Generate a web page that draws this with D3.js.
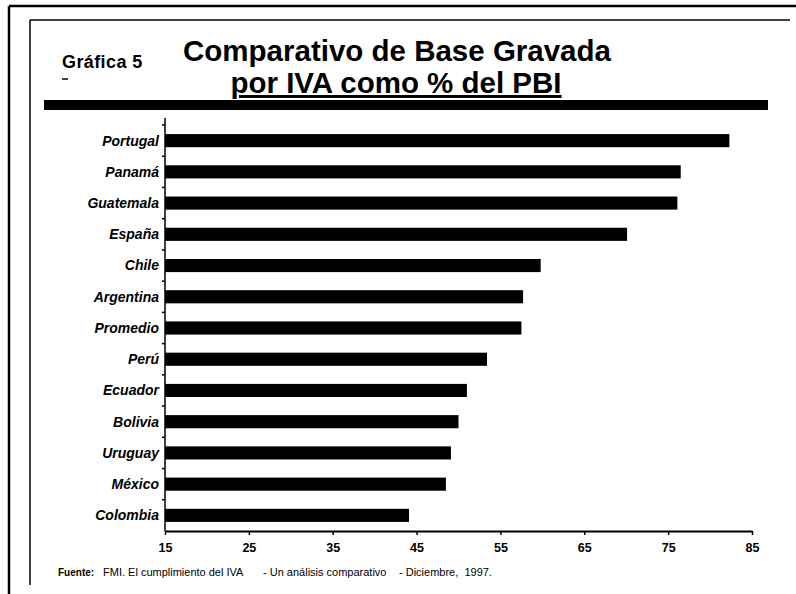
<!DOCTYPE html>
<html>
<head>
<meta charset="utf-8">
<script src="https://cdn.jsdelivr.net/npm/d3@7"></script>
<style>
  body { margin: 0; background: #fff; }
  svg { display: block; font-family: "Liberation Sans", Arial, sans-serif; }
</style>
</head>
<body>
<svg id="chart"></svg>
<script>
const width = 796;
const height = 594;

// Data
const countries = ["Portugal", "Panamá", "Guatemala", "España", "Chile", "Argentina",
  "Promedio", "Perú", "Ecuador", "Bolivia", "Uruguay", "México", "Colombia"];
const baseValues = [82.3, 76.5, 76.1, 70.1, 59.8, 57.7, 57.5, 53.4, 51.0, 50.0, 49.1, 48.5, 44.1];
const xTicks = [15, 25, 35, 45, 55, 65, 75, 85];
const sourceParts = ["FMI. El cumplimiento del IVA", "- Un análisis comparativo", "- Diciembre,  1997."];

const svg = d3.select("#chart")
    .attr("width", width)
    .attr("height", height);

// frame lines of the scanned page
svg.append("line").attr("x1", 9).attr("x2", width).attr("y1", 6).attr("y2", 6)
    .attr("stroke", "#000").attr("stroke-width", 2.5);
svg.append("line").attr("x1", 9).attr("x2", 9).attr("y1", 6).attr("y2", height)
    .attr("stroke", "#000").attr("stroke-width", 2.5);
svg.append("line").attr("x1", 30).attr("x2", 790).attr("y1", 20).attr("y2", 20)
    .attr("stroke", "#000").attr("stroke-width", 1.5);
svg.append("line").attr("x1", 30).attr("x2", 30).attr("y1", 20).attr("y2", 585)
    .attr("stroke", "#000").attr("stroke-width", 1.5);

// Titles
svg.append("text")
    .attr("x", 62).attr("y", 68)
    .attr("font-size", 18).attr("font-weight", "bold")
    .attr("letter-spacing", 0.4)
    .text("Gráfica 5");
svg.append("line").attr("x1", 62).attr("x2", 68).attr("y1", 79).attr("y2", 79)
    .attr("stroke", "#000").attr("stroke-width", 1.5);

svg.append("text")
    .attr("x", 397).attr("y", 61)
    .attr("text-anchor", "middle")
    .attr("font-size", 29.5).attr("font-weight", "bold")
    .text("Comparativo de Base Gravada");
svg.append("text")
    .attr("x", 396).attr("y", 93)
    .attr("text-anchor", "middle")
    .attr("font-size", 29.5).attr("font-weight", "bold")
    .attr("text-decoration", "underline")
    .text("por IVA como % del PBI");

svg.append("rect")
    .attr("x", 44).attr("y", 100)
    .attr("width", 724).attr("height", 10)
    .attr("fill", "#000");

// Scales
const x = d3.scaleLinear().domain([15, 85]).range([165, 752]);
const y = d3.scaleBand().domain(countries).range([125, 531])
    .paddingInner(0.58).paddingOuter(0.29);

const data = countries.map((c, i) => ({ name: c, value: baseValues[i] }));

// Bars
svg.append("g")
  .selectAll("rect")
  .data(data)
  .join("rect")
    .attr("x", x(15))
    .attr("y", d => y(d.name))
    .attr("width", d => x(d.value) - x(15))
    .attr("height", y.bandwidth())
    .attr("fill", "#000");

// X axis
const xAxis = svg.append("g")
    .attr("transform", `translate(0,${y.range()[1]})`)
    .call(d3.axisBottom(x).tickValues(xTicks).tickSize(4).tickPadding(8).tickSizeOuter(0));
xAxis.select(".domain").attr("stroke-width", 2);
xAxis.selectAll(".tick line").attr("stroke-width", 1.5);
xAxis.selectAll("text")
    .attr("font-size", 12.5).attr("font-weight", "bold")
    .attr("font-family", "'Liberation Sans', Arial, sans-serif")
    .attr("fill", "#000");

// Y axis: line, boundary ticks, labels
svg.append("line")
    .attr("x1", x(15)).attr("x2", x(15))
    .attr("y1", 118).attr("y2", y.range()[1])
    .attr("stroke", "#000").attr("stroke-width", 1.5);

const gap = y.step() * y.paddingInner();
svg.append("g")
  .selectAll("line")
  .data(countries)
  .join("line")
    .attr("x1", x(15) - 3).attr("x2", x(15))
    .attr("y1", d => y(d) - gap / 2)
    .attr("y2", d => y(d) - gap / 2)
    .attr("stroke", "#000").attr("stroke-width", 1.5);

svg.append("g")
  .selectAll("text")
  .data(countries)
  .join("text")
    .attr("x", x(15) - 6)
    .attr("y", d => y(d) + y.bandwidth() / 2)
    .attr("dy", "0.35em")
    .attr("text-anchor", "end")
    .attr("font-size", 14).attr("font-weight", "bold").attr("font-style", "italic")
    .text(d => d);

// Source note
svg.append("text")
    .attr("x", 58).attr("y", 576)
    .attr("font-size", 10).attr("font-weight", "bold")
    .text("Fuente:");
svg.append("g")
  .selectAll("text")
  .data(sourceParts)
  .join("text")
    .attr("x", (d, i) => [103, 263, 399][i])
    .attr("y", 576)
    .attr("font-size", 11)
    .style("white-space", "pre")
    .text(d => d);
</script>
</body>
</html>
